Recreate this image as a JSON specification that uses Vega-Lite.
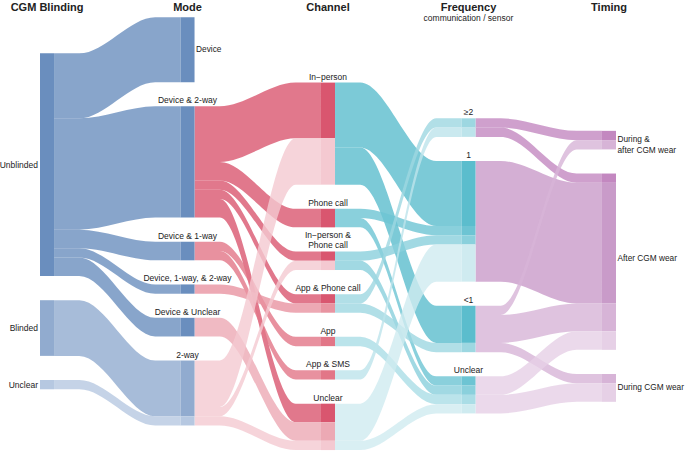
{
  "$schema": "https://vega.github.io/schema/vega-lite/v6.json",
  "width": 576,
  "height": 451,
  "autosize": "none",
  "padding": {"left": 40, "top": 0, "right": 69, "bottom": 0},
  "background": "white",
  "config": {"view": {"stroke": null}, "font": "Liberation Sans"},
  "datasets": {
    "links": [
      {"id": 1, "s": 0, "src": "Unblinded", "tgt": "Device", "n": 7, "y0": 5.75, "y1": 1.85, "c": "Unblinded"},
      {"id": 2, "s": 0, "src": "Unblinded", "tgt": "Device & 2-way", "n": 12, "y0": 12.75, "y1": 11.45, "c": "Unblinded"},
      {"id": 3, "s": 0, "src": "Unblinded", "tgt": "Device & 1-way", "n": 2, "y0": 24.75, "y1": 26.05, "c": "Unblinded"},
      {"id": 4, "s": 0, "src": "Unblinded", "tgt": "Device, 1-way, & 2-way", "n": 1, "y0": 26.75, "y1": 30.65, "c": "Unblinded"},
      {"id": 5, "s": 0, "src": "Unblinded", "tgt": "Device & Unclear", "n": 2, "y0": 27.75, "y1": 34.25, "c": "Unblinded"},
      {"id": 6, "s": 0, "src": "Blinded", "tgt": "2-way", "n": 6, "y0": 32.35, "y1": 38.85, "c": "Blinded"},
      {"id": 7, "s": 0, "src": "Unclear", "tgt": "2-way", "n": 1, "y0": 40.95, "y1": 44.85, "c": "B-Unclear"},
      {"id": 8, "s": 1, "src": "Device & 2-way", "tgt": "In-person", "n": 6, "y0": 11.45, "y1": 8.9, "c": "D2w"},
      {"id": 9, "s": 1, "src": "Device & 2-way", "tgt": "Phone call", "n": 2, "y0": 17.45, "y1": 22.5, "c": "D2w"},
      {"id": 10, "s": 1, "src": "Device & 2-way", "tgt": "In-person & Phone call", "n": 1, "y0": 19.45, "y1": 27.1, "c": "D2w"},
      {"id": 11, "s": 1, "src": "Device & 2-way", "tgt": "App & Phone call", "n": 1, "y0": 20.45, "y1": 31.7, "c": "D2w"},
      {"id": 12, "s": 1, "src": "Device & 2-way", "tgt": "Unclear", "n": 2, "y0": 21.45, "y1": 43.5, "c": "D2w"},
      {"id": 13, "s": 1, "src": "Device & 1-way", "tgt": "App", "n": 1, "y0": 26.05, "y1": 36.3, "c": "D1w"},
      {"id": 14, "s": 1, "src": "Device & 1-way", "tgt": "App & SMS", "n": 1, "y0": 27.05, "y1": 39.9, "c": "D1w"},
      {"id": 15, "s": 1, "src": "Device, 1-way, & 2-way", "tgt": "App & Phone call", "n": 1, "y0": 30.65, "y1": 32.7, "c": "D1w2w"},
      {"id": 16, "s": 1, "src": "Device & Unclear", "tgt": "Unclear", "n": 2, "y0": 34.25, "y1": 45.5, "c": "DU"},
      {"id": 17, "s": 1, "src": "2-way", "tgt": "In-person", "n": 5, "y0": 38.85, "y1": 14.9, "c": "2w"},
      {"id": 18, "s": 1, "src": "2-way", "tgt": "In-person & Phone call", "n": 1, "y0": 43.85, "y1": 28.1, "c": "2w"},
      {"id": 19, "s": 1, "src": "2-way", "tgt": "Unclear", "n": 1, "y0": 44.85, "y1": 47.5, "c": "2w"},
      {"id": 20, "s": 2, "src": "In-person", "tgt": "1", "n": 7, "y0": 8.9, "y1": 17.35, "c": "In-person"},
      {"id": 21, "s": 2, "src": "In-person", "tgt": "<1", "n": 4, "y0": 15.9, "y1": 32.95, "c": "In-person"},
      {"id": 22, "s": 2, "src": "Phone call", "tgt": "1", "n": 1, "y0": 22.5, "y1": 24.35, "c": "Phone call"},
      {"id": 23, "s": 2, "src": "Phone call", "tgt": "Unclear", "n": 1, "y0": 23.5, "y1": 40.55, "c": "Phone call"},
      {"id": 24, "s": 2, "src": "In-person & Phone call", "tgt": "1", "n": 1, "y0": 27.1, "y1": 25.35, "c": "IPPC"},
      {"id": 25, "s": 2, "src": "In-person & Phone call", "tgt": "Unclear", "n": 1, "y0": 28.1, "y1": 41.55, "c": "IPPC"},
      {"id": 26, "s": 2, "src": "App & Phone call", "tgt": "≥2", "n": 1, "y0": 31.7, "y1": 12.75, "c": "APC"},
      {"id": 27, "s": 2, "src": "App & Phone call", "tgt": "<1", "n": 1, "y0": 32.7, "y1": 36.95, "c": "APC"},
      {"id": 28, "s": 2, "src": "App", "tgt": "Unclear", "n": 1, "y0": 36.3, "y1": 42.55, "c": "App"},
      {"id": 29, "s": 2, "src": "App & SMS", "tgt": "≥2", "n": 1, "y0": 39.9, "y1": 13.75, "c": "AppSMS"},
      {"id": 30, "s": 2, "src": "Unclear", "tgt": "1", "n": 4, "y0": 43.5, "y1": 26.35, "c": "C-Unclear"},
      {"id": 31, "s": 2, "src": "Unclear", "tgt": "Unclear", "n": 1, "y0": 47.5, "y1": 43.55, "c": "C-Unclear"},
      {"id": 32, "s": 3, "src": "≥2", "tgt": "During & after CGM wear", "n": 1, "y0": 12.75, "y1": 14.1, "c": "ge2"},
      {"id": 33, "s": 3, "src": "≥2", "tgt": "After CGM wear", "n": 1, "y0": 13.75, "y1": 18.7, "c": "ge2"},
      {"id": 34, "s": 3, "src": "1", "tgt": "After CGM wear", "n": 13, "y0": 17.35, "y1": 19.7, "c": "one"},
      {"id": 35, "s": 3, "src": "<1", "tgt": "During & after CGM wear", "n": 1, "y0": 32.95, "y1": 15.1, "c": "lt1"},
      {"id": 36, "s": 3, "src": "<1", "tgt": "After CGM wear", "n": 3, "y0": 33.95, "y1": 32.7, "c": "lt1"},
      {"id": 37, "s": 3, "src": "<1", "tgt": "During CGM wear", "n": 1, "y0": 36.95, "y1": 40.3, "c": "lt1"},
      {"id": 38, "s": 3, "src": "Unclear", "tgt": "After CGM wear", "n": 2, "y0": 40.55, "y1": 35.7, "c": "F-Unclear"},
      {"id": 39, "s": 3, "src": "Unclear", "tgt": "During CGM wear", "n": 2, "y0": 42.55, "y1": 41.3, "c": "F-Unclear"}
    ],
    "nodes0": [
      {"s": 0, "name": "Unblinded", "top": 5.75, "n": 24, "c": "Unblinded"},
      {"s": 0, "name": "Blinded", "top": 32.35, "n": 6, "c": "Blinded"},
      {"s": 0, "name": "Unclear", "top": 40.95, "n": 1, "c": "B-Unclear"}
    ],
    "labelsLeft": [
      {"s": 0, "y": 17.75, "text": "Unblinded"},
      {"s": 0, "y": 35.35, "text": "Blinded"},
      {"s": 0, "y": 41.45, "text": "Unclear"}
    ],
    "labelsRight": [
      {"s": 1, "y": 5.35, "text": "Device"},
      {"s": 4, "y": 15.1, "text": "During &\nafter CGM wear"},
      {"s": 4, "y": 27.9, "text": "After CGM wear"},
      {"s": 4, "y": 41.8, "text": "During CGM wear"}
    ],
    "labelsAbove": [
      {"s": 1, "y": 11.45, "text": "Device & 2-way"},
      {"s": 1, "y": 26.05, "text": "Device & 1-way"},
      {"s": 1, "y": 30.65, "text": "Device, 1-way, & 2-way"},
      {"s": 1, "y": 34.25, "text": "Device & Unclear"},
      {"s": 1, "y": 38.85, "text": "2-way"},
      {"s": 2, "y": 8.9, "text": "In−person"},
      {"s": 2, "y": 22.5, "text": "Phone call"},
      {"s": 2, "y": 31.7, "text": "App & Phone call"},
      {"s": 2, "y": 36.3, "text": "App"},
      {"s": 2, "y": 39.9, "text": "App & SMS"},
      {"s": 2, "y": 43.5, "text": "Unclear"},
      {"s": 3, "y": 12.75, "text": "≥2"},
      {"s": 3, "y": 17.35, "text": "1"},
      {"s": 3, "y": 32.95, "text": "<1"},
      {"s": 3, "y": 40.55, "text": "Unclear"}
    ],
    "labelsAbove2": [
      {"s": 2, "y": 27.1, "text": "In−person &\nPhone call"}
    ],
    "heads": [
      {"s": 0, "text": "CGM Blinding"},
      {"s": 1, "text": "Mode"},
      {"s": 2, "text": "Channel"},
      {"s": 3, "text": "Frequency"},
      {"s": 4, "text": "Timing"}
    ]
  },
  "layer": [
    {
      "data": {"name": "links"},
      "transform": [
        {"calculate": "0", "as": "k0"},
        {"calculate": "0.2", "as": "k1"},
        {"calculate": "0.8", "as": "k2"},
        {"calculate": "1", "as": "k3"},
        {"fold": ["k0", "k1", "k2", "k3"], "as": ["knot", "t"]},
        {"calculate": "datum.s + 0.1 + 0.9 * datum.t", "as": "px"},
        {"calculate": "datum.t < 0.5 ? datum.y0 : datum.y1", "as": "yt"},
        {"calculate": "datum.yt + datum.n", "as": "yb"}
      ],
      "mark": {"type": "area", "interpolate": "monotone", "fillOpacity": 0.8},
      "encoding": {
        "x": {"field": "px", "type": "quantitative", "scale": {"domain": [0, 4.1], "nice": false, "zero": false}, "axis": null},
        "y": {"field": "yt", "type": "quantitative", "scale": {"domain": [0, 48.6], "reverse": true, "nice": false, "zero": false}, "axis": null},
        "y2": {"field": "yb"},
        "detail": {"field": "id", "type": "nominal"},
        "color": {
          "field": "c", "type": "nominal", "legend": null,
          "scale": {
            "domain": ["Unblinded", "Blinded", "B-Unclear", "D2w", "D1w", "D1w2w", "DU", "2w", "In-person", "Phone call", "IPPC", "APC", "App", "AppSMS", "C-Unclear", "ge2", "one", "lt1", "F-Unclear"],
            "range": ["#6a8ebe", "#91abcf", "#b6c8e1", "#d9566f", "#e27687", "#e894a1", "#eca9b4", "#f4c9d1", "#5bbdcd", "#6dc4d3", "#8ad0dc", "#9dd7e1", "#aadde6", "#bde4eb", "#cfebf0", "#c388c0", "#c99bc9", "#d7b4d7", "#e6d0e6"]
          }
        }
      }
    },
    {
      "data": {"name": "links"},
      "transform": [
        {"calculate": "datum.s + 1", "as": "xa"},
        {"calculate": "datum.s + 1.1", "as": "xb"},
        {"calculate": "datum.y1 + datum.n", "as": "ye"}
      ],
      "mark": {"type": "rect"},
      "encoding": {
        "x": {"field": "xa", "type": "quantitative"},
        "x2": {"field": "xb"},
        "y": {"field": "y1", "type": "quantitative"},
        "y2": {"field": "ye"},
        "color": {"field": "c", "type": "nominal", "legend": null}
      }
    },
    {
      "data": {"name": "nodes0"},
      "transform": [
        {"calculate": "datum.s + 0.1", "as": "xb"},
        {"calculate": "datum.top + datum.n", "as": "bot"}
      ],
      "mark": {"type": "rect"},
      "encoding": {
        "x": {"field": "s", "type": "quantitative"},
        "x2": {"field": "xb"},
        "y": {"field": "top", "type": "quantitative"},
        "y2": {"field": "bot"},
        "color": {"field": "c", "type": "nominal", "legend": null}
      }
    },
    {
      "data": {"name": "labelsLeft"},
      "mark": {"type": "text", "align": "right", "baseline": "middle", "dx": -2, "fontSize": 8.5, "color": "#222222"},
      "encoding": {
        "x": {"field": "s", "type": "quantitative"},
        "y": {"field": "y", "type": "quantitative"},
        "text": {"field": "text"}
      }
    },
    {
      "data": {"name": "labelsRight"},
      "transform": [{"calculate": "datum.s + 0.1", "as": "xr"}],
      "mark": {"type": "text", "align": "left", "baseline": "middle", "dx": 1.5, "fontSize": 8.3, "color": "#222222", "lineBreak": "\n", "lineHeight": 10.5},
      "encoding": {
        "x": {"field": "xr", "type": "quantitative"},
        "y": {"field": "y", "type": "quantitative"},
        "text": {"field": "text"}
      }
    },
    {
      "data": {"name": "labelsAbove"},
      "transform": [{"calculate": "datum.s + 0.05", "as": "xc"}],
      "mark": {"type": "text", "align": "center", "baseline": "bottom", "dy": -1, "fontSize": 8.5, "color": "#222222"},
      "encoding": {
        "x": {"field": "xc", "type": "quantitative"},
        "y": {"field": "y", "type": "quantitative"},
        "text": {"field": "text"}
      }
    },
    {
      "data": {"name": "labelsAbove2"},
      "transform": [{"calculate": "datum.s + 0.05", "as": "xc"}],
      "mark": {"type": "text", "align": "center", "baseline": "bottom", "dy": -11, "fontSize": 8.5, "color": "#222222", "lineBreak": "\n", "lineHeight": 10},
      "encoding": {
        "x": {"field": "xc", "type": "quantitative"},
        "y": {"field": "y", "type": "quantitative"},
        "text": {"field": "text"}
      }
    },
    {
      "data": {"name": "heads"},
      "transform": [{"calculate": "datum.s + 0.05", "as": "xc"}],
      "mark": {"type": "text", "align": "center", "baseline": "alphabetic", "fontSize": 11, "fontWeight": "bold", "color": "#222222"},
      "encoding": {
        "x": {"field": "xc", "type": "quantitative"},
        "y": {"datum": 1.185},
        "text": {"field": "text"}
      }
    },
    {
      "data": {"values": [{"s": 3, "text": "communication / sensor"}]},
      "transform": [{"calculate": "datum.s + 0.05", "as": "xc"}],
      "mark": {"type": "text", "align": "center", "baseline": "alphabetic", "fontSize": 8.5, "color": "#222222"},
      "encoding": {
        "x": {"field": "xc", "type": "quantitative"},
        "y": {"datum": 2.26},
        "text": {"field": "text"}
      }
    }
  ]
}
